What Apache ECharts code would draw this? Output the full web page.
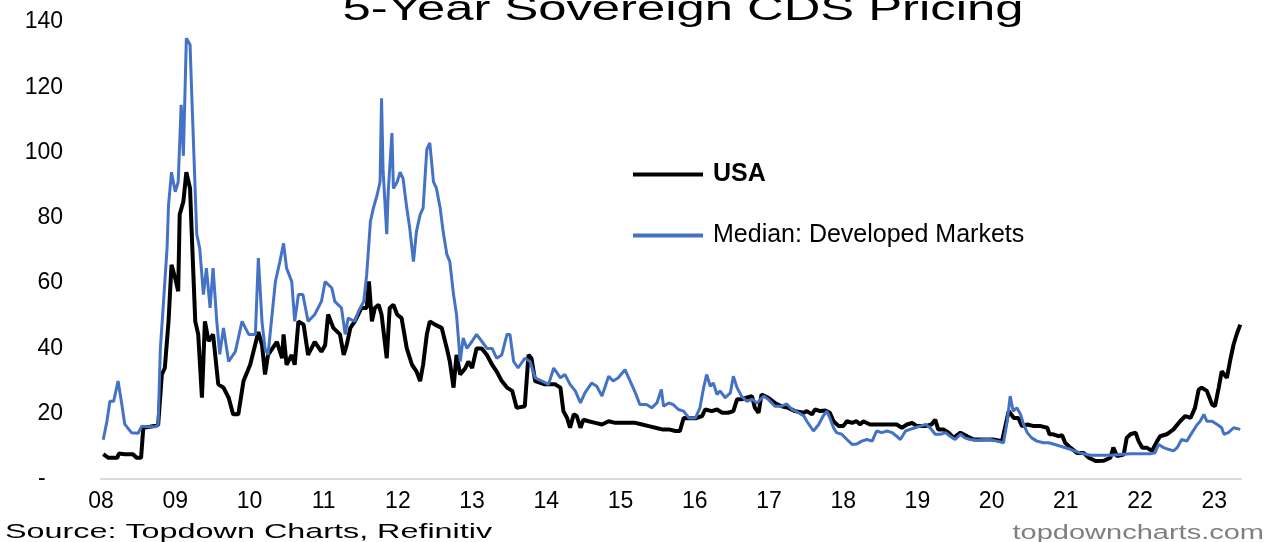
<!DOCTYPE html>
<html>
<head>
<meta charset="utf-8">
<script src="https://cdn.jsdelivr.net/npm/echarts@6/dist/echarts.min.js"></script>
<style>
html,body{margin:0;padding:0;background:#ffffff;}
#chart{width:1277px;height:542px;}
</style>
</head>
<body>
<div id="chart"></div>
<script>
// ---- data (decimal years, bps) ----
const yearLabels = ['08','09','10','11','12','13','14','15','16','17','18','19','20','21','22','23'];

const usaT = [
2008.03,2008.10,2008.22,2008.24,2008.32,2008.43,2008.48,2008.54,2008.57,2008.66,2008.77,2008.82,2008.86,2008.91,2008.95,
2009.00,2009.04,2009.06,2009.11,2009.15,2009.20,2009.22,2009.27,2009.31,2009.36,2009.40,2009.45,2009.51,2009.58,2009.65,
2009.72,2009.78,2009.85,2009.92,2010.01,2010.12,2010.17,2010.21,2010.25,2010.37,2010.44,2010.46,2010.50,2010.57,2010.61,
2010.66,2010.73,2010.79,2010.88,2010.97,2011.02,2011.06,2011.13,2011.22,2011.27,2011.31,2011.36,2011.42,2011.51,2011.58,
2011.61,2011.65,2011.69,2011.74,2011.78,2011.85,2011.89,2011.94,2011.99,2012.05,2012.12,2012.19,2012.25,2012.30,2012.34,
2012.39,2012.43,2012.50,2012.59,2012.66,2012.70,2012.75,2012.79,2012.84,2012.91,2012.95,2013.00,2013.06,2013.13,2013.20,
2013.27,2013.33,2013.40,2013.47,2013.54,2013.60,2013.71,2013.76,2013.80,2013.85,2013.98,2014.12,2014.19,2014.23,2014.28,
2014.32,2014.37,2014.41,2014.46,2014.50,2014.57,2014.66,2014.75,2014.84,2014.93,2015.06,2015.20,2015.29,2015.38,2015.47,
2015.56,2015.65,2015.74,2015.80,2015.85,2015.92,2016.01,2016.10,2016.14,2016.23,2016.30,2016.37,2016.45,2016.52,2016.57,
2016.63,2016.70,2016.77,2016.81,2016.86,2016.90,2016.99,2017.08,2017.17,2017.26,2017.35,2017.47,2017.51,2017.58,2017.62,
2017.69,2017.76,2017.82,2017.87,2017.94,2018.00,2018.05,2018.12,2018.18,2018.23,2018.27,2018.36,2018.50,2018.63,2018.72,
2018.79,2018.86,2018.93,2018.99,2019.11,2019.19,2019.24,2019.28,2019.35,2019.42,2019.49,2019.58,2019.67,2019.76,2019.89,
2020.02,2020.14,2020.23,2020.30,2020.36,2020.41,2020.48,2020.57,2020.66,2020.75,2020.78,2020.83,2020.90,2020.95,2020.99,
2021.06,2021.15,2021.24,2021.31,2021.40,2021.51,2021.60,2021.64,2021.69,2021.78,2021.82,2021.87,2021.94,2021.98,2022.03,
2022.09,2022.16,2022.23,2022.27,2022.36,2022.45,2022.54,2022.61,2022.68,2022.74,2022.79,2022.83,2022.90,2022.97,2023.01,
2023.06,2023.10,2023.17,2023.22,2023.26,2023.30,2023.35
];
const usaV = [
7.6,6.5,6.5,7.8,7.6,7.6,6.5,6.5,15.7,16,16.5,32,34,48.3,65.6,
61.5,57.5,81,85,94,89,76.8,48.3,44.3,24.9,48.3,42.2,44.3,29,28,
24.9,19.8,19.8,30,35,45,41,32,38,42,37,44.3,35,38,35,
48.3,47.3,38,42,39,41,50.4,46.3,44.3,38,41,46.3,48.3,52.4,52.4,
60.5,48.3,52.4,53.4,50.4,37,52.4,53.4,50.4,49.3,40,35,33,30,35,
44.3,48.3,47.3,46.3,40,36,28,38,32,34,36,34,40,40,38,
35,33,30,28,27,21.8,22.3,38,37,30,29,29,28,20.8,18.7,
15.7,19.8,19.3,15.7,18.2,17.7,17.2,16.7,17.7,17.2,17.2,17.2,16.7,16.2,15.7,
15.2,15.2,14.7,14.7,18.7,18.6,18.6,19.3,21.3,20.8,21.3,20.3,20.3,20.8,24.4,
24.4,24.9,25.4,21.8,20.3,25.9,24.9,23.3,22.3,21.8,20.8,20.3,20.8,19.8,21.3,
20.8,21,20.3,17.7,16.2,16.2,17.7,17.2,17.7,16.7,17.7,16.7,16.7,16.7,16.7,
15.7,16.7,17.2,16.2,16.2,16.7,18.2,15.2,15.2,14.2,12.6,14.2,13.1,12.1,12.1,
12.1,11.6,20.8,18.7,18.7,16.2,16.7,16.2,16.2,15.7,13.7,13.7,13.1,13.4,11.1,
9.6,8,8,6.5,5.5,5.6,6.5,9.6,7,7.5,12.6,13.7,14.2,11.6,9.6,
9.6,8.6,11.6,13.1,13.7,15.2,17.7,19.3,18.7,21.8,27.4,28,27,22.8,22.3,
28,33,31,37,41.2,44.2,47.3
];

const dmT = [
2008.03,2008.08,2008.12,2008.17,2008.23,2008.28,2008.32,2008.41,2008.50,2008.55,2008.63,2008.73,2008.77,2008.80,2008.84,
2008.89,2008.91,2008.95,2009.00,2009.04,2009.08,2009.11,2009.15,2009.20,2009.22,2009.26,2009.29,2009.33,2009.38,2009.42,
2009.47,2009.51,2009.56,2009.60,2009.65,2009.72,2009.81,2009.90,2009.99,2010.08,2010.12,2010.17,2010.21,2010.25,2010.35,
2010.41,2010.46,2010.50,2010.57,2010.61,2010.66,2010.72,2010.79,2010.88,2010.97,2011.02,2011.11,2011.15,2011.24,2011.29,
2011.33,2011.42,2011.47,2011.54,2011.58,2011.63,2011.67,2011.72,2011.76,2011.78,2011.80,2011.85,2011.87,2011.92,2011.94,
2011.99,2012.03,2012.07,2012.12,2012.16,2012.21,2012.25,2012.30,2012.34,2012.39,2012.43,2012.48,2012.52,2012.57,2012.61,
2012.66,2012.70,2012.75,2012.79,2012.84,2012.88,2012.93,2013.00,2013.06,2013.13,2013.20,2013.27,2013.33,2013.40,2013.47,
2013.51,2013.56,2013.62,2013.71,2013.78,2013.85,2013.94,2014.03,2014.10,2014.16,2014.19,2014.25,2014.32,2014.39,2014.46,
2014.52,2014.61,2014.68,2014.75,2014.84,2014.90,2014.97,2015.06,2015.13,2015.20,2015.26,2015.35,2015.42,2015.49,2015.55,
2015.58,2015.65,2015.71,2015.78,2015.85,2015.92,2016.01,2016.07,2016.12,2016.16,2016.21,2016.25,2016.30,2016.34,2016.41,
2016.48,2016.52,2016.57,2016.63,2016.70,2016.77,2016.84,2016.93,2016.99,2017.08,2017.17,2017.24,2017.31,2017.40,2017.47,
2017.51,2017.60,2017.67,2017.73,2017.78,2017.82,2017.87,2017.91,2017.98,2018.05,2018.12,2018.18,2018.25,2018.32,2018.39,
2018.45,2018.52,2018.59,2018.66,2018.72,2018.77,2018.84,2018.90,2018.97,2019.04,2019.11,2019.17,2019.24,2019.31,2019.38,
2019.44,2019.51,2019.58,2019.64,2019.71,2019.80,2019.89,2019.98,2020.07,2020.16,2020.21,2020.25,2020.29,2020.34,2020.39,
2020.43,2020.48,2020.54,2020.61,2020.70,2020.77,2020.92,2021.06,2021.19,2021.33,2021.46,2021.60,2021.73,2021.87,2022.00,
2022.14,2022.20,2022.25,2022.32,2022.38,2022.45,2022.50,2022.56,2022.63,2022.70,2022.77,2022.81,2022.86,2022.90,2022.97,
2023.04,2023.10,2023.13,2023.19,2023.26,2023.35
];
const dmV = [
12,17.7,23.8,23.8,30,23,16.8,14.2,14,16.2,16,16,16.5,40,53.5,
70.7,84,94,88,91,114.6,99,135,133,119.6,94,75,70.7,56.5,64.6,
52.4,64.6,48.3,38.2,46.3,36,39,48.3,44.3,44.3,67.7,48,40,38,60.5,
66.6,72.2,64.6,60.5,48.3,56.5,56.5,48.3,50.4,54.4,60.5,58.5,54.4,52.4,44.3,
49.3,48.3,51.4,54.4,62.6,78.9,83,87,91,116.6,95,75,88,106,89,
91,94,92,83,76.8,66.6,75.8,81,83,101,103,91,89,83,75.8,
68.8,66.6,56.5,50.4,36,43.2,40,42.2,44.3,42.2,40,40,37,38,44.3,
44.3,36,34,37,36,31,30,29,34,32,31,32,29,27,23.3,
26.4,29.4,28.4,25.4,31.5,30,31,33.5,30,26.4,22.8,22.8,21.8,23.3,27.4,
22.3,23.3,22.8,21.3,20.8,18.7,18.7,21.8,28,32,28.4,29.4,25.9,27,24.9,
26.4,31.5,28,25.4,23.8,24.4,23.3,25.4,24.4,22.3,22.3,23,21.3,20.3,19.3,
17.7,14.7,16.7,19.3,20.8,18.7,15.7,14.2,13.7,12.1,10.6,10.7,11.6,12.1,11.6,
14.7,14.2,14.7,14.2,13.1,12.1,14.7,15.2,15.7,16.2,16.7,15.7,13.7,13.7,14.2,
13.1,12.1,13.7,12.6,12.1,11.9,12.1,12.1,11.6,11.1,17.7,25.4,20.8,21.8,19.8,
16.7,14.2,12.6,11.6,11.1,11.1,10.1,9.1,8,7.3,7.3,7.3,7.5,7.7,7.7,
7.7,8,10.6,9.6,9.1,8.6,9.6,12.1,11.6,14.2,16.7,17.7,19.8,17.7,17.7,
16.7,15.7,13.7,14.2,15.7,15.2
];

const FONT = 'Liberation Sans, Arial, sans-serif';

const chart = echarts.init(document.getElementById('chart'), null, {renderer:'canvas'});
chart.setOption({
  animation: false,
  backgroundColor: '#ffffff',
  grid: {left: 101, right: 36, top: 22, bottom: 63, containLabel: false, outerBoundsMode: 'none'},
  xAxis: {
    type: 'value', min: 2008, max: 2023.36, interval: 1,
    axisLine: {show: true, onZero: false, lineStyle: {color: '#d9d9d9', width: 2}},
    axisTick: {show: false},
    splitLine: {show: false},
    axisLabel: {
      showMaxLabel: false, margin: 23, verticalAlign: 'middle',
      fontSize: 23, fontFamily: FONT, color: '#000',
      formatter: function (v) {
        const r = Math.round(v);
        if (Math.abs(v - r) > 1e-6) return '';
        return yearLabels[r - 2008] || '';
      }
    }
  },
  yAxis: {
    type: 'value', min: 0, max: 140, interval: 20,
    axisLine: {show: false}, axisTick: {show: false}, splitLine: {show: false},
    axisLabel: {
      margin: 38, fontSize: 23, fontFamily: FONT, color: '#000',
      formatter: function (v) { return v === 0 ? '-  \u2009' : String(v); }
    }
  },
  legend: {
    orient: 'vertical', left: 628, top: 157,
    itemWidth: 70, itemHeight: 4, itemGap: 36,
    icon: 'rect',
    selectedMode: false,
    data: [
      {name: 'USA', textStyle: {fontWeight: 'bold'}},
      {name: 'Median: Developed Markets'}
    ],
    formatter: function (n) { return '\u2009' + n; },
    textStyle: {fontSize: 25, fontFamily: FONT, color: '#000', lineHeight: 24}
  },
  graphic: [
    {type: 'text', x: 683, y: 10, scaleX: 1.45, silent: true,
      style: {text: '5-Year Sovereign CDS Pricing', fontSize: 35, fontFamily: FONT, fill: '#000', align: 'center', verticalAlign: 'middle'}},
    {type: 'text', x: 5, y: 532, scaleX: 1.54, silent: true,
      style: {text: 'Source: Topdown Charts, Refinitiv', fontSize: 21, fontFamily: FONT, fill: '#000', align: 'left', verticalAlign: 'middle'}},
    {type: 'text', x: 1264, y: 533, scaleX: 1.45, silent: true,
      style: {text: 'topdowncharts.com', fontSize: 20, fontFamily: FONT, fill: '#7f7f7f', align: 'right', verticalAlign: 'middle'}}
  ],
  series: [
    {name: 'USA', type: 'line', symbol: 'none', showSymbol: false,
      data: usaT.map(function (t, i) { return [t, usaV[i]]; }),
      lineStyle: {color: '#000000', width: 4}, itemStyle: {color: '#000000'}},
    {name: 'Median: Developed Markets', type: 'line', symbol: 'none', showSymbol: false,
      data: dmT.map(function (t, i) { return [t, dmV[i]]; }),
      lineStyle: {color: '#4472C4', width: 3}, itemStyle: {color: '#4472C4'}}
  ]
});
</script>
</body>
</html>
